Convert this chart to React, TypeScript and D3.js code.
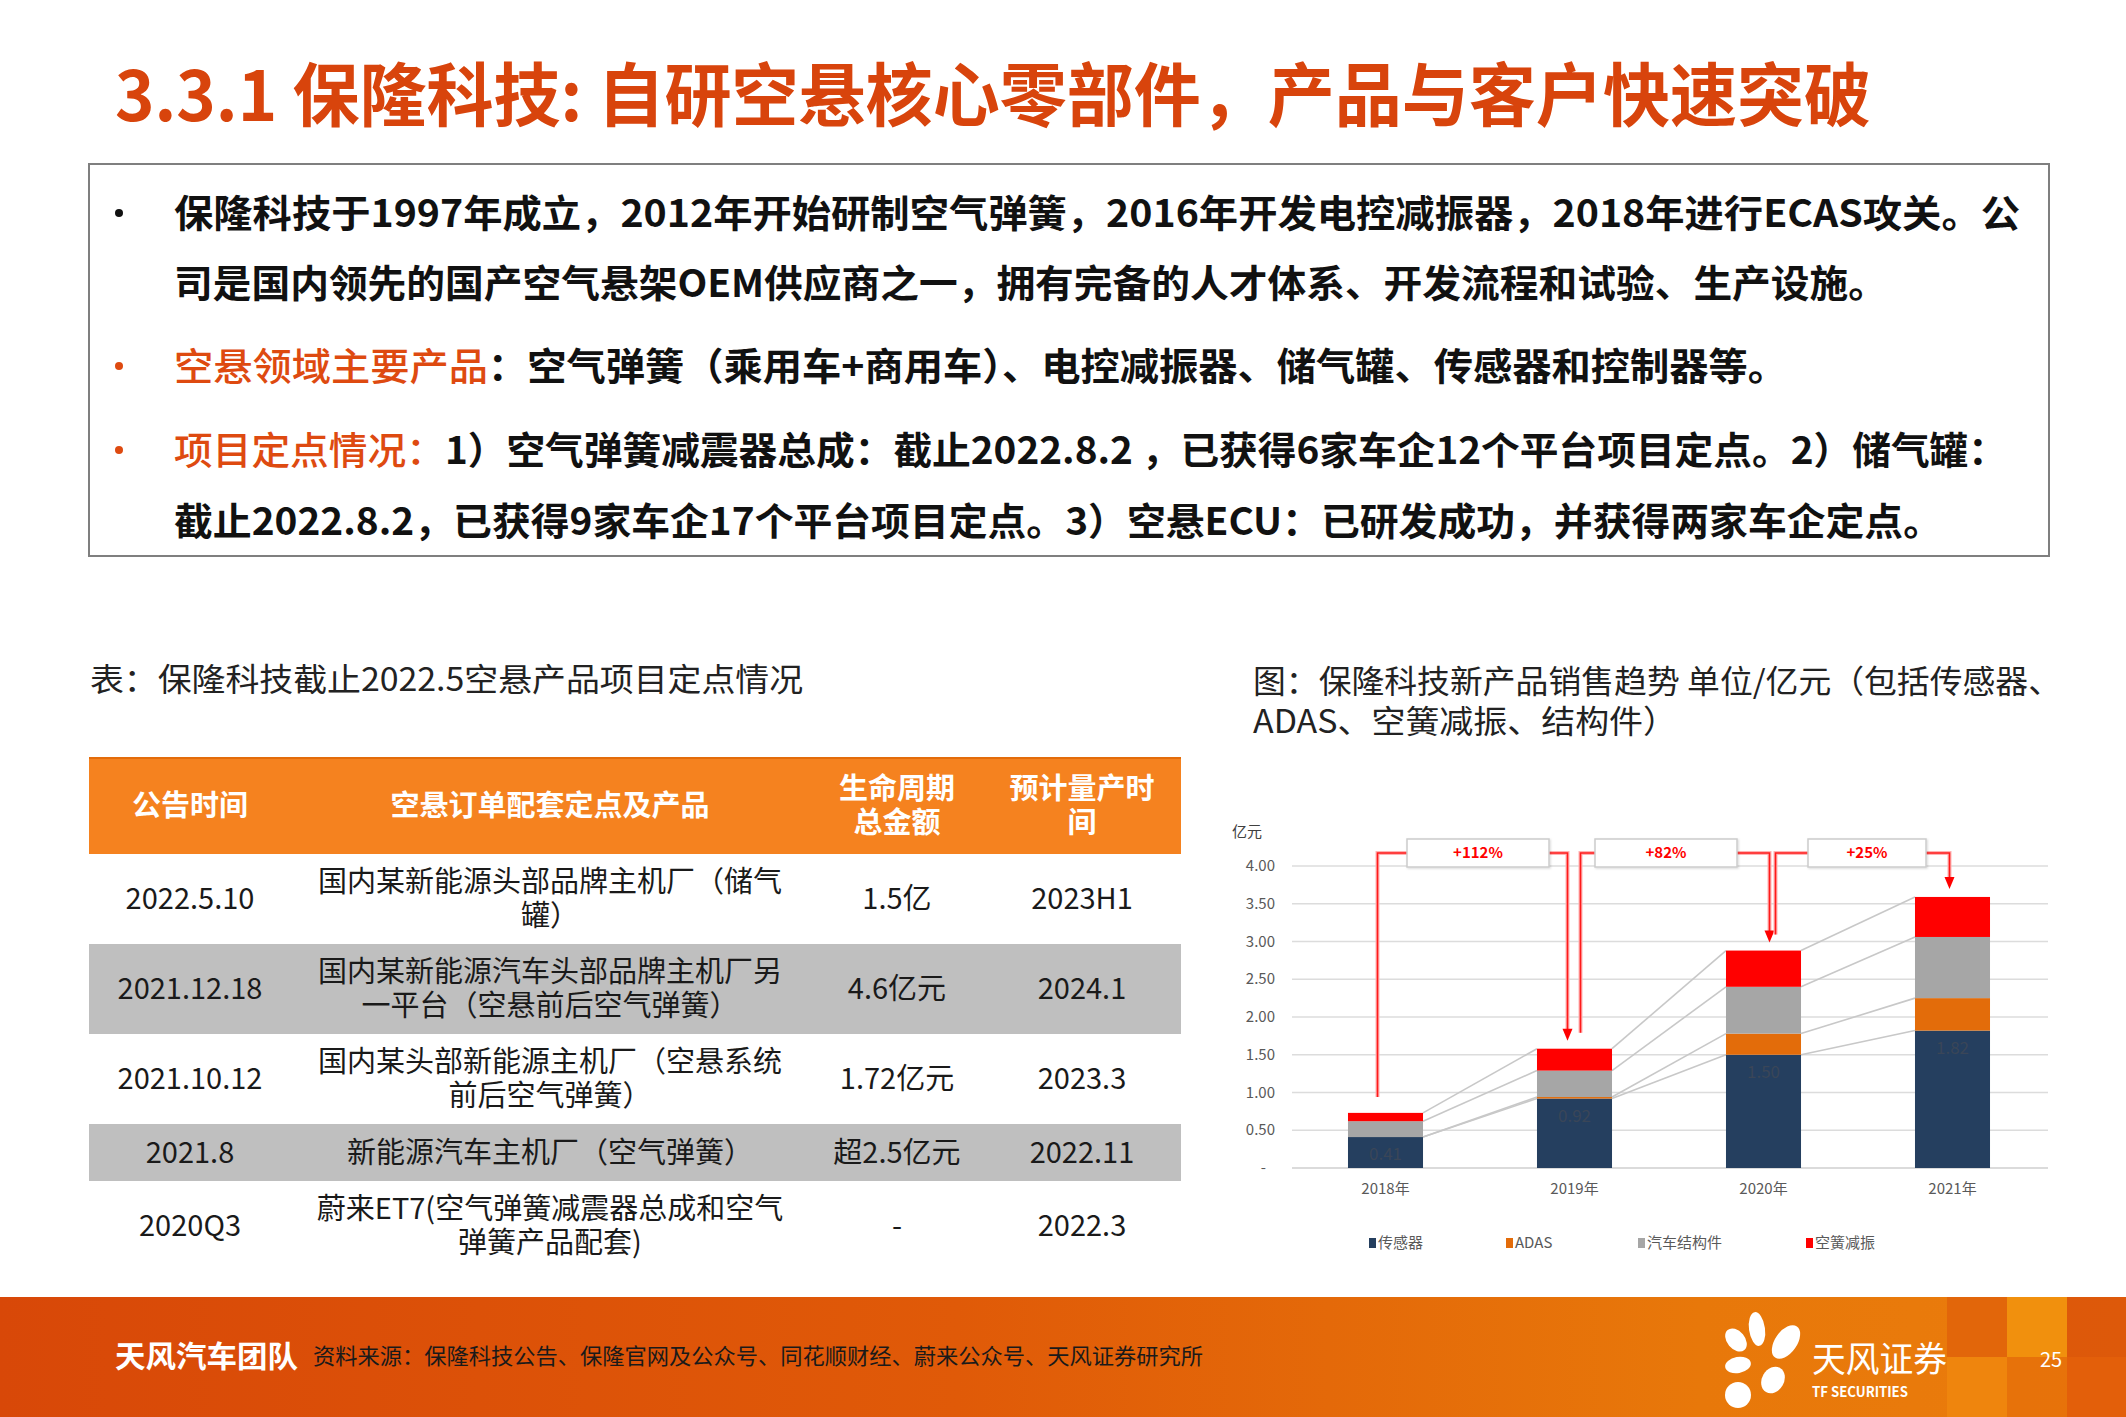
import React from "react";
import * as d3 from "d3";

// ---------------- data ----------------
const years = ["2018年", "2019年", "2020年", "2021年"];
const sensorValues = [0.41, 0.92, 1.5, 1.82];
const adasValues = [0, 0.02, 0.28, 0.43];
const structureValues = [0.21, 0.35, 0.62, 0.81];
const airSpringValues = [0.11, 0.29, 0.48, 0.53];
const growthLabels = ["+112%", "+82%", "+25%"];
const yTicks = [0, 0.5, 1, 1.5, 2, 2.5, 3, 3.5, 4];
const seriesNames = ["传感器", "ADAS", "汽车结构件", "空簧减振"];
const seriesKeys = ["sensor", "adas", "structure", "air"];
const seriesColors = ["#253f5f", "#e36c0a", "#a6a6a6", "#ff0000"];

const tableHeaders = [["公告时间"], ["空悬订单配套定点及产品"], ["生命周期", "总金额"], ["预计量产时", "间"]];
const announceDates = ["2022.5.10", "2021.12.18", "2021.10.12", "2021.8", "2020Q3"];
const products = [
  ["国内某新能源头部品牌主机厂（储气", "罐）"],
  ["国内某新能源汽车头部品牌主机厂另", "一平台（空悬前后空气弹簧）"],
  ["国内某头部新能源主机厂（空悬系统", "前后空气弹簧）"],
  ["新能源汽车主机厂（空气弹簧）"],
  ["蔚来ET7(空气弹簧减震器总成和空气", "弹簧产品配套)"],
];
const amounts = ["1.5亿", "4.6亿元", "1.72亿元", "超2.5亿元", "-"];
const massProduction = ["2023H1", "2024.1", "2023.3", "2022.11", "2022.3"];

const titleText = "3.3.1 保隆科技: 自研空悬核心零部件，产品与客户快速突破";
const bulletLines = [
  { bullet: "black", orange: "", black: "保隆科技于1997年成立，2012年开始研制空气弹簧，2016年开发电控减振器，2018年进行ECAS攻关。公" },
  { bullet: "", orange: "", black: "司是国内领先的国产空气悬架OEM供应商之一，拥有完备的人才体系、开发流程和试验、生产设施。" },
  { bullet: "orange", orange: "空悬领域主要产品", black: "：空气弹簧（乘用车+商用车）、电控减振器、储气罐、传感器和控制器等。" },
  { bullet: "orange", orange: "项目定点情况：", black: "1）空气弹簧减震器总成：截止2022.8.2 ，已获得6家车企12个平台项目定点。2）储气罐：" },
  { bullet: "", orange: "", black: "截止2022.8.2，已获得9家车企17个平台项目定点。3）空悬ECU：已研发成功，并获得两家车企定点。" },
];
const tableCaption = "表：保隆科技截止2022.5空悬产品项目定点情况";
const chartCaption = ["图：保隆科技新产品销售趋势 单位/亿元（包括传感器、", "ADAS、空簧减振、结构件）"];
const footerTeam = "天风汽车团队";
const footerSource = "资料来源：保隆科技公告、保隆官网及公众号、同花顺财经、蔚来公众号、天风证券研究所";

const CJK = "'Noto Sans CJK SC', 'Noto Sans', sans-serif";
const TITLE_RED = "#d8440c";
const ORANGE_TXT = "#de4a10";

export default function App() {
  const W = 2126;
  const H = 1417;

  // ---------- chart scales ----------
  const x = d3.scaleBand<string>().domain(years).range([1291, 2047]).paddingInner(0.603).paddingOuter(0.3015);
  const y = d3.scaleLinear().domain([0, 4]).range([1168, 866]);
  const bw = x.bandwidth();
  const rows = years.map((yr, i) => ({
    year: yr,
    sensor: sensorValues[i],
    adas: adasValues[i],
    structure: structureValues[i],
    air: airSpringValues[i],
  }));
  const stacked = d3.stack<any>().keys(seriesKeys)(rows as any);
  const totals = years.map((_, i) => stacked[stacked.length - 1][i][1]);
  const gridX0 = 1292;
  const gridX1 = 2048;

  // ---------- table layout ----------
  const tX0 = 89;
  const tX1 = 1181;
  const headerTop = 757;
  const headerBottom = 854;
  const rowBounds = [854, 944, 1034, 1124, 1181, 1271];
  const colCenters = [190, 550, 897, 1082];
  const lineGap = 34;

  const bulletCenters = [213, 283, 366, 450, 521];
  const bulletLengths = [1846, 1713, 1613, 1833, 1768];

  const legendX = [1373, 1510, 1642, 1810];
  const startOffsets = [-8, 6, 12];
  const endOffsets = [-7, 6, -3];
  const boxShift = [-2, -3, 9];
  const boxWidths = [142, 142, 118];

  const centerOf = (yr: string) => (x(yr) as number) + bw / 2;

  return (
    <svg
      width={W}
      height={H}
      viewBox={`0 0 ${W} ${H}`}
      style={{ position: "absolute", left: 0, top: 0, background: "#fff" }}
      fontFamily={CJK}
    >
      <defs>
        <linearGradient id="footerGrad" x1="0" x2="1" y1="0" y2="0">
          <stop offset="0" stopColor="#d84808" />
          <stop offset="0.45" stopColor="#e05a08" />
          <stop offset="0.8" stopColor="#e8780a" />
          <stop offset="1" stopColor="#ea7c0c" />
        </linearGradient>
        <filter id="boxShadow" x="-10%" y="-30%" width="120%" height="160%">
          <feDropShadow dx="1" dy="1" stdDeviation="1.2" floodColor="#000" floodOpacity="0.15" />
        </filter>
      </defs>
      <rect x={0} y={0} width={W} height={H} fill="#fff" />

      {/* Title */}
      <text x={115} y={121} fontSize={69} fontWeight={700} fill={TITLE_RED} textLength={1756} lengthAdjust="spacingAndGlyphs">
        {titleText}
      </text>

      {/* Bullet box */}
      <rect x={89} y={164} width={1960} height={392} fill="none" stroke="#7f7f7f" strokeWidth={2} />
      {bulletLines.map((ln, i) => (
        <g key={i}>
          {ln.bullet && (
            <circle cx={119} cy={bulletCenters[i]} r={4} fill={ln.bullet === "black" ? "#111" : ORANGE_TXT} />
          )}
          <text
            x={174}
            y={bulletCenters[i] + 14}
            fontSize={38}
            fontWeight={700}
            fill="#111"
            textLength={bulletLengths[i]}
            lengthAdjust="spacingAndGlyphs"
          >
            {ln.orange && (
              <tspan fill={ORANGE_TXT} fontWeight={500}>
                {ln.orange}
              </tspan>
            )}
            <tspan>{ln.black}</tspan>
          </text>
        </g>
      ))}

      {/* Table caption */}
      <text x={90} y={691} fontSize={32} fill="#222" textLength={713} lengthAdjust="spacingAndGlyphs">
        {tableCaption}
      </text>

      {/* Table */}
      <rect x={tX0} y={headerTop} width={tX1 - tX0} height={headerBottom - headerTop} fill="#f5821f" />
      <line x1={tX0} x2={tX1} y1={headerTop + 1} y2={headerTop + 1} stroke="#e36c0a" strokeWidth={2} />
      {tableHeaders.map((lines, c) => {
        const cy = (headerTop + headerBottom) / 2;
        const startY = cy - ((lines.length - 1) * lineGap) / 2;
        return (
          <g key={c}>
            {lines.map((t, k) => (
              <text
                key={k}
                x={colCenters[c]}
                y={startY + k * lineGap + 10}
                textAnchor="middle"
                fontSize={29}
                fontWeight={700}
                fill="#fff"
              >
                {t}
              </text>
            ))}
          </g>
        );
      })}
      {announceDates.map((d, r) => {
        const top = rowBounds[r];
        const bottom = rowBounds[r + 1];
        const cy = (top + bottom) / 2;
        const cells = [[d], products[r], [amounts[r]], [massProduction[r]]];
        return (
          <g key={r}>
            {r % 2 === 1 && <rect x={tX0} y={top} width={tX1 - tX0} height={bottom - top} fill="#bfbfbf" />}
            {cells.map((lines, c) => {
              const startY = cy - ((lines.length - 1) * lineGap) / 2;
              return (
                <g key={c}>
                  {lines.map((t, k) => (
                    <text
                      key={k}
                      x={colCenters[c]}
                      y={startY + k * lineGap + 10}
                      textAnchor="middle"
                      fontSize={29}
                      fill="#1a1a1a"
                    >
                      {t}
                    </text>
                  ))}
                </g>
              );
            })}
          </g>
        );
      })}

      {/* Chart caption */}
      <text x={1253} y={693} fontSize={32} fill="#222" textLength={808} lengthAdjust="spacingAndGlyphs">
        {chartCaption[0]}
      </text>
      <text x={1253} y={733} fontSize={32} fill="#222" textLength={424} lengthAdjust="spacingAndGlyphs">
        {chartCaption[1]}
      </text>

      {/* Chart */}
      <g fontFamily={CJK}>
        <text x={1232} y={837} fontSize={15} fill="#404040">亿元</text>
        {yTicks.map((t) => (
          <g key={t}>
            <line
              x1={gridX0}
              x2={gridX1}
              y1={y(t)}
              y2={y(t)}
              stroke={t === 0 ? "#cfcfcf" : "#dcdcdc"}
              strokeWidth={1.5}
            />
            <text
              x={t === 0 ? 1266 : 1275}
              y={y(t) + 5}
              textAnchor="end"
              fontSize={15}
              fill="#595959"
            >
              {t === 0 ? "-" : d3.format(".2f")(t)}
            </text>
          </g>
        ))}

        {/* series lines */}
        {stacked.map((layer, li) =>
          years.slice(0, -1).map((yr, i) => (
            <line
              key={`sl-${li}-${i}`}
              x1={(x(yr) as number) + bw}
              y1={y(layer[i][1])}
              x2={x(years[i + 1]) as number}
              y2={y(layer[i + 1][1])}
              stroke="#c8c8c8"
              strokeWidth={1.6}
            />
          ))
        )}

        {/* bars */}
        {stacked.map((layer, li) =>
          layer.map((seg, i) =>
            seg[1] - seg[0] > 0 ? (
              <rect
                key={`b-${li}-${i}`}
                x={x(years[i]) as number}
                y={y(seg[1])}
                width={bw}
                height={y(seg[0]) - y(seg[1])}
                fill={seriesColors[li]}
              />
            ) : null
          )
        )}
        {/* data labels */}
        {years.map((yr, i) => (
          <text
            key={`dl-${i}`}
            x={centerOf(yr)}
            y={y(sensorValues[i]) + 23}
            textAnchor="middle"
            fontSize={17}
            fill="#3a4658"
          >
            {d3.format(".2f")(sensorValues[i])}
          </text>
        ))}

        {/* x labels */}
        {years.map((yr) => (
          <text key={yr} x={centerOf(yr)} y={1194} textAnchor="middle" fontSize={15} fill="#595959">
            {yr}
          </text>
        ))}

        {/* growth annotations */}
        {growthLabels.map((g, i) => {
          const c0 = centerOf(years[i]);
          const c1 = centerOf(years[i + 1]);
          const sx = c0 + startOffsets[i];
          const ex = c1 + endOffsets[i];
          const sy = y(totals[i]) - 16;
          const ty = y(totals[i + 1]) - 8;
          const hy = 853;
          const bc = (c0 + c1) / 2 + boxShift[i];
          const bx0 = bc - boxWidths[i] / 2;
          const bx1 = bc + boxWidths[i] / 2;
          const leftPath = `M${sx},${sy}V${hy}H${bx0}`;
          const rightPath = `M${bx1},${hy}H${ex}V${ty - 10}`;
          return (
            <g key={g}>
              {[leftPath, rightPath].map((p, k) => (
                <g key={k}>
                  <path d={p} fill="none" stroke="#ffb3b3" strokeWidth={4} />
                  <path d={p} fill="none" stroke="#ff1a1a" strokeWidth={1.6} />
                </g>
              ))}
              <polygon points={`${ex - 5},${ty - 12} ${ex + 5},${ty - 12} ${ex},${ty}`} fill="#ff0000" />
              <rect
                x={bx0}
                y={839}
                width={boxWidths[i]}
                height={28}
                fill="#fff"
                stroke="#cccccc"
                strokeWidth={1.5}
                filter="url(#boxShadow)"
              />
              <text x={bc} y={858} textAnchor="middle" fontSize={15} fontWeight={700} fill="#ff0000">
                {g}
              </text>
            </g>
          );
        })}

        {/* legend */}
        {seriesNames.map((n, i) => (
          <g key={n}>
            <rect x={legendX[i] - 4} y={1238} width={7} height={10} fill={seriesColors[i]} />
            <text x={legendX[i] + 5} y={1248} fontSize={15} fill="#595959">
              {n}
            </text>
          </g>
        ))}
      </g>

      {/* Footer */}
      <rect x={0} y={1297} width={W} height={120} fill="url(#footerGrad)" />
      <rect x={1947} y={1297} width={60} height={60} fill="#e0620a" opacity={0.8} />
      <rect x={2007} y={1297} width={60} height={60} fill="#f2940e" opacity={0.85} />
      <rect x={2067} y={1297} width={59} height={60} fill="#d9500a" opacity={0.8} />
      <rect x={1947} y={1357} width={60} height={60} fill="#f0880e" opacity={0.8} />
      <rect x={2007} y={1357} width={60} height={60} fill="#e6700a" opacity={0.8} />
      <rect x={2067} y={1357} width={59} height={60} fill="#e25a0a" opacity={0.85} />

      <text x={115} y={1367} fontSize={30} fontWeight={700} fill="#fff" textLength={183} lengthAdjust="spacingAndGlyphs">
        {footerTeam}
      </text>
      <text x={313} y={1364} fontSize={22} fill="#1a1a1a" textLength={890} lengthAdjust="spacingAndGlyphs">
        {footerSource}
      </text>

      {/* logo petals */}
      <g fill="#fff">
        <ellipse cx={1757} cy={1329} rx={8} ry={17} transform="rotate(-8 1757 1329)" />
        <ellipse cx={1786} cy={1342} rx={11} ry={19} transform="rotate(35 1786 1342)" />
        <ellipse cx={1736} cy={1340} rx={9} ry={13} transform="rotate(-40 1736 1340)" />
        <ellipse cx={1738} cy={1365} rx={13} ry={8} transform="rotate(-10 1738 1365)" />
        <ellipse cx={1773} cy={1380} rx={11} ry={14} transform="rotate(30 1773 1380)" />
        <ellipse cx={1738} cy={1395} rx={13} ry={13} />
      </g>
      <text x={1812} y={1372} fontSize={35} fill="#fff" textLength={135} lengthAdjust="spacingAndGlyphs">
        天风证券
      </text>
      <text x={1812} y={1397} fontSize={14} fontWeight={700} fill="#fff" textLength={96} lengthAdjust="spacingAndGlyphs">
        TF SECURITIES
      </text>
      <text x={2040} y={1367} fontSize={20} fill="#fff">
        25
      </text>
    </svg>
  );
}
